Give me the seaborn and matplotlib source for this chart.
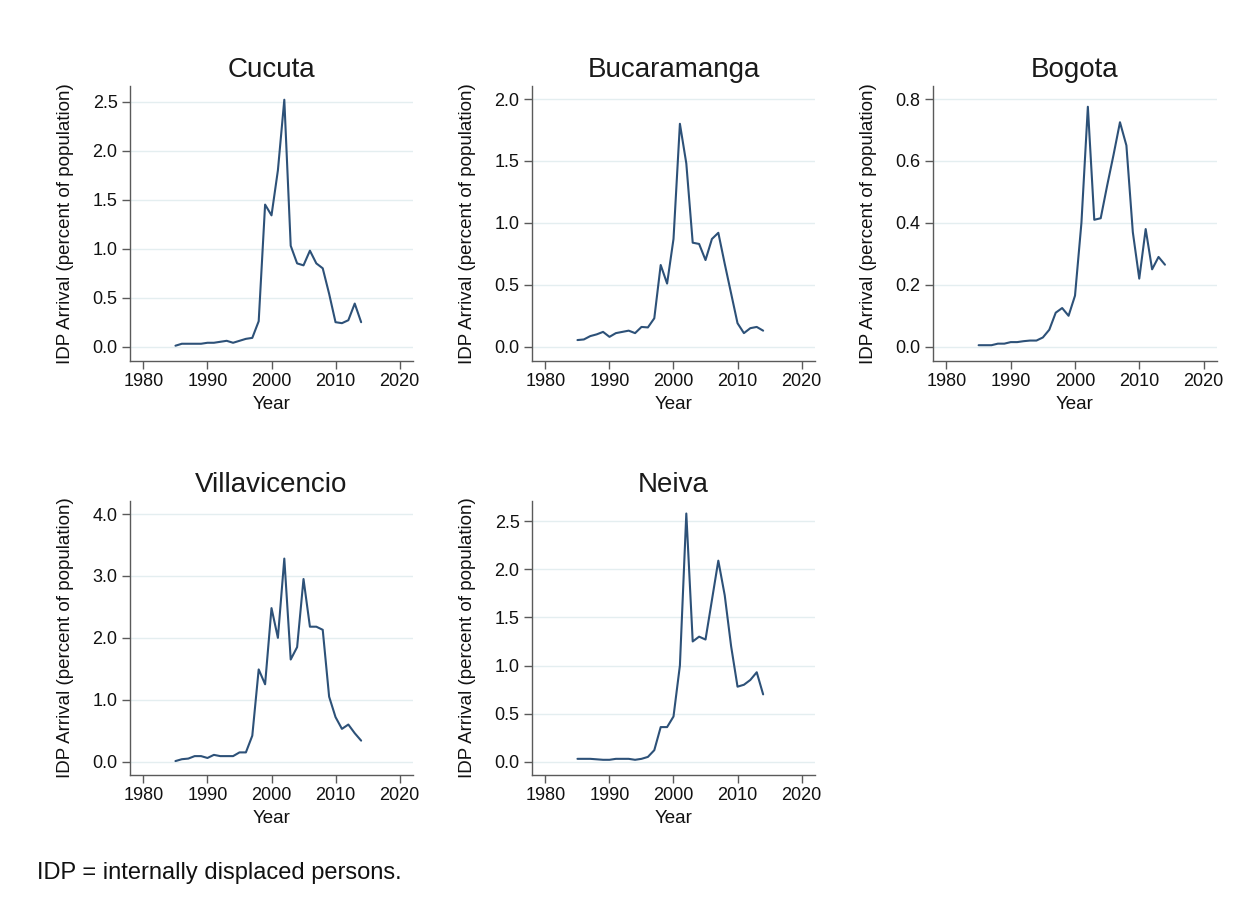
import matplotlib
matplotlib.use("Agg")
import matplotlib.pyplot as plt
import pandas as pd
import seaborn as sns
from matplotlib.ticker import FormatStrFormatter

# IDP arrivals as a share of each city's population, 1985-2014
years = [1985, 1986, 1987, 1988, 1989, 1990, 1991, 1992, 1993, 1994,
         1995, 1996, 1997, 1998, 1999, 2000, 2001, 2002, 2003, 2004,
         2005, 2006, 2007, 2008, 2009, 2010, 2011, 2012, 2013, 2014]

cucuta = [0.01, 0.03, 0.03, 0.03, 0.03, 0.04, 0.04, 0.05, 0.06, 0.04,
          0.06, 0.08, 0.09, 0.26, 1.45, 1.34, 1.80, 2.52, 1.03, 0.85,
          0.83, 0.98, 0.85, 0.80, 0.54, 0.25, 0.24, 0.27, 0.44, 0.25]

bucaramanga = [0.054, 0.059, 0.086, 0.10, 0.12, 0.08, 0.11, 0.12, 0.13, 0.11,
               0.16, 0.156, 0.23, 0.66, 0.51, 0.87, 1.80, 1.48, 0.84, 0.83,
               0.70, 0.87, 0.92, 0.67, 0.43, 0.19, 0.11, 0.15, 0.16, 0.13]

bogota = [0.005, 0.005, 0.005, 0.01, 0.01, 0.015, 0.015, 0.018, 0.02, 0.02,
          0.03, 0.055, 0.11, 0.125, 0.10, 0.165, 0.40, 0.775, 0.41, 0.415,
          0.52, 0.62, 0.725, 0.65, 0.37, 0.22, 0.38, 0.25, 0.29, 0.265]

villavicencio = [0.01, 0.04, 0.05, 0.09, 0.09, 0.06, 0.11, 0.09, 0.09, 0.09,
                 0.15, 0.15, 0.42, 1.49, 1.25, 2.48, 2.00, 3.28, 1.65, 1.85,
                 2.95, 2.18, 2.18, 2.13, 1.05, 0.72, 0.53, 0.60, 0.46, 0.34]

neiva = [0.03, 0.03, 0.03, 0.025, 0.02, 0.02, 0.03, 0.03, 0.03, 0.02,
         0.03, 0.05, 0.12, 0.36, 0.36, 0.47, 1.00, 2.58, 1.25, 1.30,
         1.27, 1.68, 2.09, 1.73, 1.20, 0.78, 0.80, 0.85, 0.93, 0.70]

cities = ["Cucuta", "Bucaramanga", "Bogota", "Villavicencio", "Neiva"]
series = [cucuta, bucaramanga, bogota, villavicencio, neiva]
y_ticks = [
    [0.0, 0.5, 1.0, 1.5, 2.0, 2.5],
    [0.0, 0.5, 1.0, 1.5, 2.0],
    [0.0, 0.2, 0.4, 0.6, 0.8],
    [0.0, 1.0, 2.0, 3.0, 4.0],
    [0.0, 0.5, 1.0, 1.5, 2.0, 2.5],
]
x_ticks = [1980, 1990, 2000, 2010, 2020]

sns.set_theme(style="white")
plt.rcParams["font.family"] = ["Liberation Sans", "DejaVu Sans"]

W, H = 1254, 909
fig = plt.figure(figsize=(W / 100, H / 100), dpi=100)

# panel frames in pixels: left, top, width, height
frames = [
    (130, 86, 283, 275),
    (532, 86, 283, 275),
    (933, 86, 284, 275),
    (130, 501, 283, 274),
    (532, 501, 283, 274),
]
y_limits = [
    (-0.146, 2.66),
    (-0.115, 2.105),
    (-0.046, 0.842),
    (-0.215, 4.21),
    (-0.138, 2.71),
]

line_color = "#2d5178"
axis_color = "#5a5a5a"
grid_color = "#e4eef0"

for city, vals, ticks, ylim, (l, t, w, h) in zip(cities, series, y_ticks, y_limits, frames):
    ax = fig.add_axes([l / W, 1 - (t + h) / H, w / W, h / H])
    df = pd.DataFrame({"Year": years, "IDP": vals})
    sns.lineplot(data=df, x="Year", y="IDP", ax=ax, color=line_color, linewidth=1.5)

    ax.set_xlim(1977.9, 2022.1)
    ax.set_ylim(*ylim)
    ax.set_xticks(x_ticks)
    ax.set_yticks(ticks)
    ax.yaxis.set_major_formatter(FormatStrFormatter("%.1f"))

    ax.grid(axis="y", color=grid_color, linewidth=1.0)
    ax.grid(axis="x", visible=False)
    ax.set_axisbelow(True)

    for side in ("top", "right"):
        ax.spines[side].set_visible(False)
    for side in ("left", "bottom"):
        ax.spines[side].set_color(axis_color)
        ax.spines[side].set_linewidth(1.0)

    ax.tick_params(axis="both", direction="out", length=6, width=1.0,
                   color=axis_color, labelsize=13, labelcolor="#111111",
                   bottom=True, left=True, pad=3)

    ax.set_xlabel("Year", fontsize=13.5, color="#111111")
    ax.set_ylabel("IDP Arrival (percent of population)", fontsize=13.5, color="#111111")
    ax.xaxis.set_label_coords(0.5, -(396 - 361) / 275)
    ax.yaxis.set_label_coords(-56 / w, 0.5)

    ax.set_title(city, fontsize=20, color="#1a1a1a", pad=6.5)

fig.text(37 / W, 1 - 873 / H, "IDP = internally displaced persons.",
         fontsize=17, color="#111111", va="center", ha="left")

fig.savefig("out.png", dpi=100, facecolor="white")
